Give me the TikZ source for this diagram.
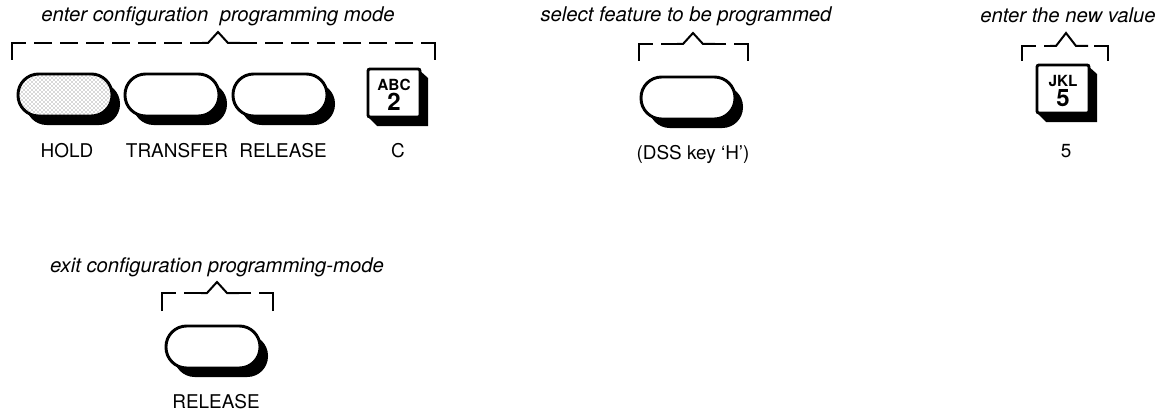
\documentclass[tikz,border=0pt]{standalone}
\usepackage{fontspec}
\setmainfont{TeX Gyre Heros}
\usetikzlibrary{patterns}
\newcommand{\ovalkey}[4][]{%
  \fill[black, rounded corners=15.5pt] ({#2-47+8},{#3-21+9}) rectangle ({#2+47+8},{#3+21+9});
  \draw[face,#1] ({#2-47},{#3-21}) rectangle ({#2+47},{#3+21});
  \coordinate (#4) at (#2,#3);
}
\newcommand{\squarekey}[5]{%
  \fill[black] ({#1+50},{#2}) -- ({#1+60},{#2+9}) -- ({#1+60},{#2+57}) -- ({#1+9},{#2+57}) -- ({#1},{#2+48}) -- cycle;
  \draw[squareface] (#1,#2) rectangle ({#1+52},{#2+48});
  \node[keysmall] (#5a) at ({#1+26},{#2+16}) {#3};
  \node[keybig] (#5b) at ({#1+26},{#2+33}) {#4};
}
\newcommand{\bracketmark}[6]{%
  \draw[brk] (#1,#4) -- (#1,#3) -- ({#1+14},#3);
  \draw[brk] (#2,#4) -- (#2,#3) -- ({#2-14},#3);
  \draw[dsh] ({#1+14},#3) -- ({#5-10},#3);
  \draw[dsh] ({#2-14},#3) -- ({#5+10},#3);
  \draw[brk] ({#5-16},#3) -- ({#5-10},#3) -- (#5,#6) -- ({#5+10},#3) -- ({#5+22},#3);
}
\begin{document}
\begin{tikzpicture}[x=0.75pt,y=-0.75pt,
  face/.style={draw=black, line width=2.2pt, fill=white, rounded corners=15.5pt},
  squareface/.style={draw=black, line width=2.2pt, fill=white, rounded corners=1.5pt},
  caption/.style={font=\fontsize{15.2}{18}\selectfont\itshape, inner sep=0pt, anchor=base},
  keylabel/.style={font=\fontsize{14.2}{17}\selectfont, inner sep=0pt, anchor=base},
  keysmall/.style={font=\fontsize{11.5}{12}\selectfont\bfseries, inner sep=0pt},
  keybig/.style={font=\fontsize{18}{19}\selectfont\bfseries, inner sep=0pt},
  brk/.style={line width=1.5pt, line join=miter},
  dsh/.style={line width=1.5pt, dash pattern=on 13.5pt off 6pt, dash phase=13.5pt}
]
\useasboundingbox[fill=white] (0,0) rectangle (1163,410);

% captions
\node[caption] (c1) at (218,22) {enter configuration\ \ programming mode};
\node[caption] (c2) at (686,22) {select feature to be programmed};
\node[caption] (c3) at (1068,23) {enter the new value};
\node[caption] (c4) at (217,272) {exit configuration programming-mode};

% brackets
\bracketmark{12}{435}{43}{60}{218}{32}
\bracketmark{639}{748}{44}{61}{693}{33}
\bracketmark{1022}{1108}{46}{61}{1066}{33}
\bracketmark{162}{273}{293}{311}{217}{282}

% keys
\ovalkey[preaction={fill=white}, fill=none, pattern=crosshatch dots, pattern color=black!65]{65}{95}{khold}
\ovalkey{172}{95}{ktransfer}
\ovalkey{280}{95}{krelease}
\squarekey{368}{69}{ABC}{2}{kabc}
\ovalkey{688}{98}{kdss}
\squarekey{1037}{65}{JKL}{5}{kjkl}
\ovalkey{213}{347}{kexit}

% labels
\node[keylabel] (l1) at (67,157) {HOLD};
\node[keylabel] (l2) at (177,157) {TRANSFER};
\node[keylabel] (l3) at (283,157) {RELEASE};
\node[keylabel] (l4) at (398,157) {C};
\node[keylabel] (l5) at (693,159) {(DSS key ‘H’)};
\node[keylabel] (l6) at (1066,157) {5};
\node[keylabel] (l7) at (216,408) {RELEASE};
\end{tikzpicture}
\end{document}
